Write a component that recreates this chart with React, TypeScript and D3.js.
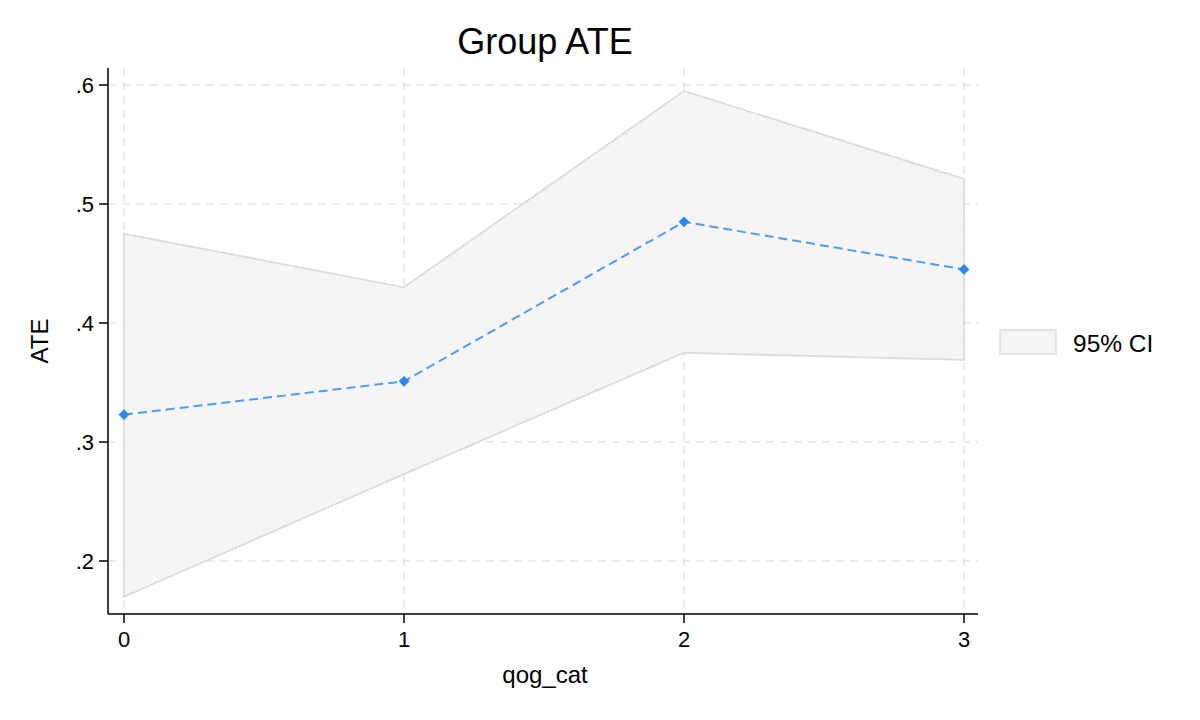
import React from "react";
import * as d3 from "d3";

// qog_cat categories
const categories = [0, 1, 2, 3];
// group ATE point estimates
const ate = [0.323, 0.351, 0.485, 0.445];
// 95% confidence interval bounds
const ciLower = [0.17, 0.273, 0.375, 0.369];
const ciUpper = [0.475, 0.43, 0.595, 0.521];
// y axis ticks
const yTicks = [0.2, 0.3, 0.4, 0.5, 0.6];
const yTickLabels = [".2", ".3", ".4", ".5", ".6"];

const font = "'Liberation Sans', Arial, Helvetica, sans-serif";

export default function App() {
  const width = 1200;
  const height = 720;

  // plot region
  const left = 108;
  const right = 978;
  const top = 68;
  const bottom = 614;

  const x = d3.scaleLinear().domain([0, 3]).range([124, 964]);
  const y = d3.scaleLinear().domain([0.2, 0.6]).range([561, 85]);

  const rows = categories.map((c, i) => ({ c, est: ate[i], lo: ciLower[i], hi: ciUpper[i] }));

  const area = d3
    .area<(typeof rows)[number]>()
    .x((d) => x(d.c))
    .y0((d) => y(d.lo))
    .y1((d) => y(d.hi));

  // closed outline of the band so the edges at 0 and 3 show
  const outline =
    "M" +
    rows.map((d) => `${x(d.c)},${y(d.hi)}`).join("L") +
    "L" +
    rows
      .slice()
      .reverse()
      .map((d) => `${x(d.c)},${y(d.lo)}`)
      .join("L") +
    "Z";

  const line = d3
    .line<(typeof rows)[number]>()
    .x((d) => x(d.c))
    .y((d) => y(d.est));

  const diamond = d3.symbol(d3.symbolDiamond2, 75)();

  return (
    <svg width={width} height={height} style={{ display: "block", margin: "-8px", background: "#fff" }}>
      <rect width={width} height={height} fill="#fff" />

      {/* grid */}
      {yTicks.map((t) => (
        <line
          key={"gy" + t}
          x1={left}
          x2={right}
          y1={y(t)}
          y2={y(t)}
          stroke="#e6e6e6"
          strokeWidth={1.5}
          strokeDasharray="8,6"
        />
      ))}
      {categories.map((c) => (
        <line
          key={"gx" + c}
          x1={x(c)}
          x2={x(c)}
          y1={top}
          y2={bottom}
          stroke="#e6e6e6"
          strokeWidth={1.5}
          strokeDasharray="8,6"
        />
      ))}

      {/* CI band */}
      <path d={area(rows) ?? ""} fill="#f5f5f5" />
      <path d={outline} fill="none" stroke="#dcdcdc" strokeWidth={1.8} strokeLinejoin="miter" />

      {/* estimates */}
      <path d={line(rows) ?? ""} fill="none" stroke="#4f9cf0" strokeWidth={2} strokeDasharray="9,5" />
      {rows.map((d) => (
        <path key={"m" + d.c} d={diamond} transform={`translate(${x(d.c)},${y(d.est)})`} fill="#2f88f2" />
      ))}

      {/* axes */}
      <line x1={left} x2={left} y1={top} y2={bottom} stroke="#000" strokeWidth={1.5} />
      <line x1={left} x2={right} y1={bottom} y2={bottom} stroke="#000" strokeWidth={1.5} />
      {yTicks.map((t, i) => (
        <g key={"ty" + t}>
          <line x1={left - 9} x2={left} y1={y(t)} y2={y(t)} stroke="#000" strokeWidth={1.5} />
          <text
            x={left - 14}
            y={y(t)}
            dy="0.36em"
            textAnchor="end"
            fontFamily={font}
            fontSize={22}
            fill="#000"
          >
            {yTickLabels[i]}
          </text>
        </g>
      ))}
      {categories.map((c) => (
        <g key={"tx" + c}>
          <line x1={x(c)} x2={x(c)} y1={bottom} y2={bottom + 9} stroke="#000" strokeWidth={1.5} />
          <text x={x(c)} y={647} textAnchor="middle" fontFamily={font} fontSize={22} fill="#000">
            {c}
          </text>
        </g>
      ))}

      {/* labels */}
      <text x={545} y={54} textAnchor="middle" fontFamily={font} fontSize={36} fill="#000">
        Group ATE
      </text>
      <text x={545} y={683} textAnchor="middle" fontFamily={font} fontSize={24} fill="#000">
        qog_cat
      </text>
      <text
        transform={`translate(48,${(top + bottom) / 2}) rotate(-90)`}
        textAnchor="middle"
        fontFamily={font}
        fontSize={24}
        fill="#000"
      >
        ATE
      </text>

      {/* legend */}
      <rect x={1000} y={330} width={56} height={24} fill="#f5f5f5" stroke="#dcdcdc" strokeWidth={1.5} />
      <text x={1073} y={352} fontFamily={font} fontSize={24.5} fill="#000">
        95% CI
      </text>
    </svg>
  );
}
